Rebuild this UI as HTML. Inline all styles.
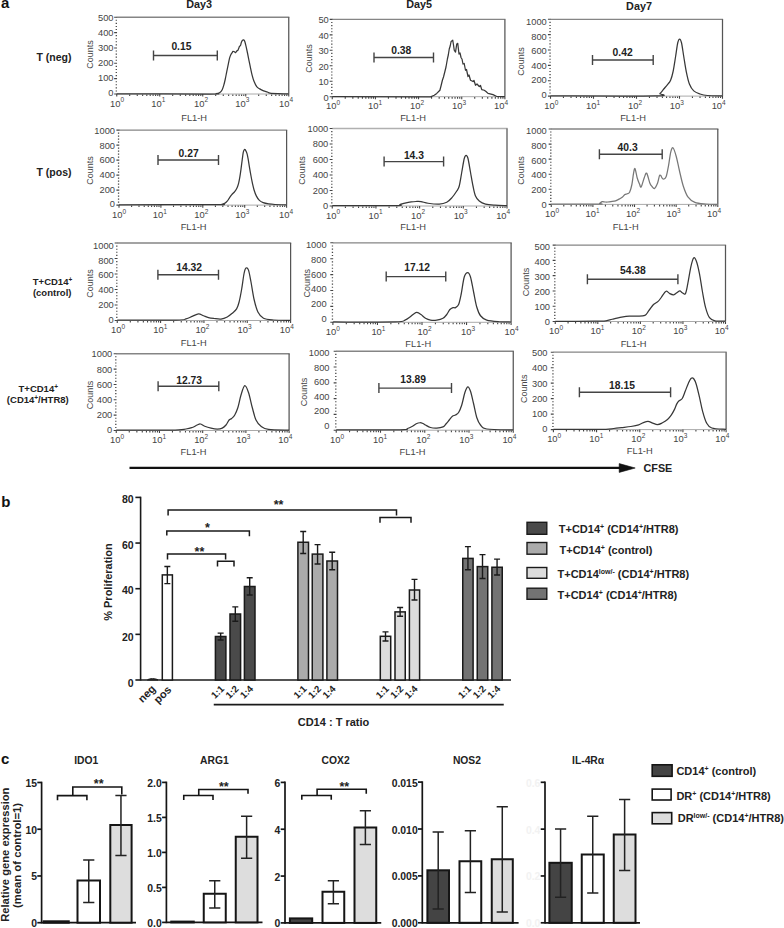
<!DOCTYPE html>
<html><head><meta charset="utf-8"><style>
html,body{margin:0;padding:0;background:#fff;}
body{width:784px;height:928px;overflow:hidden;}
svg{display:block;font-family:"Liberation Sans", sans-serif;}
</style></head><body>
<svg width="784" height="928" viewBox="0 0 784 928">
<rect width="784" height="928" fill="#fff"/>
<line x1="116.75" y1="17.25" x2="289.35" y2="17.25" stroke="#858585" stroke-width="1.3"/>
<line x1="288.75" y1="17.25" x2="288.75" y2="94" stroke="#555" stroke-width="1.25"/>
<line x1="116.75" y1="94" x2="288.75" y2="94" stroke="#aaa" stroke-width="1.0"/>
<text x="113.5" y="96.45" font-size="9.3" text-anchor="end" fill="#444">0</text>
<text x="113.5" y="81.39" font-size="9.3" text-anchor="end" fill="#444">100</text>
<text x="113.5" y="66.33" font-size="9.3" text-anchor="end" fill="#444">200</text>
<text x="113.5" y="51.27" font-size="9.3" text-anchor="end" fill="#444">300</text>
<text x="113.5" y="36.21" font-size="9.3" text-anchor="end" fill="#444">400</text>
<text x="113.5" y="21.15" font-size="9.3" text-anchor="end" fill="#444">500</text>
<text x="117" y="106.6" font-size="9.4" text-anchor="middle" fill="#444">10<tspan font-size="6.5" dy="-4.2">0</tspan></text>
<text x="158.3" y="106.6" font-size="9.4" text-anchor="middle" fill="#444">10<tspan font-size="6.5" dy="-4.2">1</tspan></text>
<text x="201" y="106.6" font-size="9.4" text-anchor="middle" fill="#444">10<tspan font-size="6.5" dy="-4.2">2</tspan></text>
<text x="242.3" y="106.6" font-size="9.4" text-anchor="middle" fill="#444">10<tspan font-size="6.5" dy="-4.2">3</tspan></text>
<text x="286.15" y="106.6" font-size="9.4" text-anchor="middle" fill="#444">10<tspan font-size="6.5" dy="-4.2">4</tspan></text>
<path d="M114.15,94H117.05M115.65,90.93h1.3M115.65,87.86h1.3M115.65,84.79h1.3M115.65,81.72h1.3M114.15,78.65H117.05M115.65,75.58h1.3M115.65,72.51h1.3M115.65,69.44h1.3M115.65,66.37h1.3M114.15,63.3H117.05M115.65,60.23h1.3M115.65,57.16h1.3M115.65,54.09h1.3M115.65,51.02h1.3M114.15,47.95H117.05M115.65,44.88h1.3M115.65,41.81h1.3M115.65,38.74h1.3M115.65,35.67h1.3M114.15,32.6H117.05M115.65,29.53h1.3M115.65,26.46h1.3M115.65,23.39h1.3M115.65,20.32h1.3M114.15,17.25H117.05M116.75,94v2.6M129.69,94.4v1.6M137.27,94.4v1.6M142.64,94.4v1.6M146.81,94.4v1.6M150.21,94.4v1.6M153.09,94.4v1.6M155.58,94.4v1.6M157.78,94.4v1.6M159.75,94v2.6M172.69,94.4v1.6M180.27,94.4v1.6M185.64,94.4v1.6M189.81,94.4v1.6M193.21,94.4v1.6M196.09,94.4v1.6M198.58,94.4v1.6M200.78,94.4v1.6M202.75,94v2.6M215.69,94.4v1.6M223.27,94.4v1.6M228.64,94.4v1.6M232.81,94.4v1.6M236.21,94.4v1.6M239.09,94.4v1.6M241.58,94.4v1.6M243.78,94.4v1.6M245.75,94v2.6M258.69,94.4v1.6M266.27,94.4v1.6M271.64,94.4v1.6M275.81,94.4v1.6M279.21,94.4v1.6M282.09,94.4v1.6M284.58,94.4v1.6M286.78,94.4v1.6M288.75,94v2.6" stroke="#444" stroke-width="1.1" fill="none"/>
<text x="194.15" y="120.5" font-size="9.3" text-anchor="middle" fill="#444">FL1-H</text>
<text x="92.8" y="54.5" font-size="9" text-anchor="middle" fill="#444" transform="rotate(-90 92.8 54.5)">Counts</text>
<path d="M153.5,55.5H217.3M153.5,50.5v10M217.3,50.5v10" stroke="#444" stroke-width="1.4" fill="none"/>
<text x="181.4" y="50" font-size="10.3" font-weight="bold" text-anchor="middle" fill="#222">0.15</text>
<path d="M116.75,93.8C132.29,93.83 193.44,94.02 210,94C226.56,93.98 214.45,93.97 216.1,93.7C217.75,93.43 218.88,93.07 219.9,92.4C220.92,91.73 221.55,90.92 222.2,89.7C222.85,88.48 223.28,86.88 223.8,85.1C224.32,83.32 224.8,81.3 225.3,79C225.8,76.7 226.28,73.85 226.8,71.3C227.32,68.75 227.95,65.87 228.4,63.7C228.85,61.53 229.12,59.77 229.5,58.3C229.88,56.83 230.25,55.85 230.7,54.9C231.15,53.95 231.82,53.18 232.2,52.6C232.58,52.02 232.62,51.53 233,51.4C233.38,51.27 234.07,51.6 234.5,51.8C234.93,52 235.22,52.73 235.6,52.6C235.98,52.47 236.42,51.38 236.8,51C237.18,50.62 237.58,50.73 237.9,50.3C238.22,49.87 238.43,49.05 238.7,48.4C238.97,47.75 239.18,46.92 239.5,46.4C239.82,45.88 240.28,46 240.6,45.3C240.92,44.6 241.08,43.03 241.4,42.2C241.72,41.37 242.12,40.68 242.5,40.3C242.88,39.92 243.32,39.7 243.7,39.9C244.08,40.1 244.42,40.47 244.8,41.5C245.18,42.53 245.55,44.18 246,46.1C246.45,48.02 247,50.58 247.5,53C248,55.42 248.48,58.05 249,60.6C249.52,63.15 250.08,65.88 250.6,68.3C251.12,70.72 251.53,72.93 252.1,75.1C252.67,77.27 253.23,79.38 254,81.3C254.77,83.22 255.75,85.33 256.7,86.6C257.65,87.87 258.55,88.2 259.7,88.9C260.85,89.6 262.32,90.28 263.6,90.8C264.88,91.32 266.33,91.62 267.4,92C268.47,92.38 268.23,92.83 270,93.1C271.77,93.37 274.88,93.48 278,93.6C281.12,93.72 286.96,93.77 288.75,93.8" stroke="#383838" stroke-width="1.25" fill="none" stroke-linejoin="round"/>
<line x1="332.25" y1="19.4" x2="505.5" y2="19.4" stroke="#858585" stroke-width="1.3"/>
<line x1="504.9" y1="19.4" x2="504.9" y2="96.7" stroke="#555" stroke-width="1.25"/>
<line x1="332.25" y1="96.7" x2="504.9" y2="96.7" stroke="#aaa" stroke-width="1.0"/>
<text x="328.75" y="100.65" font-size="9.3" text-anchor="end" fill="#444">0</text>
<text x="328.75" y="85.2" font-size="9.3" text-anchor="end" fill="#444">10</text>
<text x="328.75" y="69.75" font-size="9.3" text-anchor="end" fill="#444">20</text>
<text x="328.75" y="54.3" font-size="9.3" text-anchor="end" fill="#444">30</text>
<text x="328.75" y="38.85" font-size="9.3" text-anchor="end" fill="#444">40</text>
<text x="328.75" y="23.4" font-size="9.3" text-anchor="end" fill="#444">50</text>
<text x="333.05" y="109.3" font-size="9.4" text-anchor="middle" fill="#444">10<tspan font-size="6.5" dy="-4.2">0</tspan></text>
<text x="375.06" y="109.3" font-size="9.4" text-anchor="middle" fill="#444">10<tspan font-size="6.5" dy="-4.2">1</tspan></text>
<text x="417.07" y="109.3" font-size="9.4" text-anchor="middle" fill="#444">10<tspan font-size="6.5" dy="-4.2">2</tspan></text>
<text x="459.09" y="109.3" font-size="9.4" text-anchor="middle" fill="#444">10<tspan font-size="6.5" dy="-4.2">3</tspan></text>
<text x="501.1" y="109.3" font-size="9.4" text-anchor="middle" fill="#444">10<tspan font-size="6.5" dy="-4.2">4</tspan></text>
<path d="M329.65,96.7H332.55M331.15,93.61h1.3M331.15,90.52h1.3M331.15,87.42h1.3M331.15,84.33h1.3M329.65,81.24H332.55M331.15,78.15h1.3M331.15,75.06h1.3M331.15,71.96h1.3M331.15,68.87h1.3M329.65,65.78H332.55M331.15,62.69h1.3M331.15,59.6h1.3M331.15,56.5h1.3M331.15,53.41h1.3M329.65,50.32H332.55M331.15,47.23h1.3M331.15,44.14h1.3M331.15,41.04h1.3M331.15,37.95h1.3M329.65,34.86H332.55M331.15,31.77h1.3M331.15,28.68h1.3M331.15,25.58h1.3M331.15,22.49h1.3M329.65,19.4H332.55M332.25,96.7v2.6M345.24,97.1v1.6M352.84,97.1v1.6M358.24,97.1v1.6M362.42,97.1v1.6M365.84,97.1v1.6M368.73,97.1v1.6M371.23,97.1v1.6M373.44,97.1v1.6M375.41,96.7v2.6M388.41,97.1v1.6M396.01,97.1v1.6M401.4,97.1v1.6M405.58,97.1v1.6M409,97.1v1.6M411.89,97.1v1.6M414.39,97.1v1.6M416.6,97.1v1.6M418.57,96.7v2.6M431.57,97.1v1.6M439.17,97.1v1.6M444.56,97.1v1.6M448.74,97.1v1.6M452.16,97.1v1.6M455.05,97.1v1.6M457.55,97.1v1.6M459.76,97.1v1.6M461.74,96.7v2.6M474.73,97.1v1.6M482.33,97.1v1.6M487.72,97.1v1.6M491.91,97.1v1.6M495.32,97.1v1.6M498.21,97.1v1.6M500.72,97.1v1.6M502.92,97.1v1.6M504.9,96.7v2.6" stroke="#444" stroke-width="1.1" fill="none"/>
<text x="413.05" y="121.2" font-size="9.3" text-anchor="middle" fill="#444">FL1-H</text>
<text x="311.8" y="58.4" font-size="9" text-anchor="middle" fill="#444" transform="rotate(-90 311.8 58.4)">Counts</text>
<path d="M374,57.5H433.5M374,52.5v10M433.5,52.5v10" stroke="#444" stroke-width="1.4" fill="none"/>
<text x="401.3" y="53.6" font-size="10.3" font-weight="bold" text-anchor="middle" fill="#222">0.38</text>
<path d="M332.25,96.5L430.5,96.8L434.25,95.25L436.75,93.4L439.9,90.25L441,86L442.4,80.25L443.5,77L444.9,71.5L446,67L447.4,59L448.3,55L449.25,49L450.2,46L451.1,41.5L452.75,40.25L453.5,45L454.25,50.25L455.5,52.1L456.75,44L457.75,43.4L458.4,49L459,54L460,53L461.1,57.75L462,59L463,64L464.2,63.5L465.5,70.25L466.5,69.5L468,76.5L469,75L470.5,80.25L473,81.5L474,80.5L475.5,85.25L477,84L479.25,86.5L480.5,85.5L481.75,89.6L484.25,90.25L486,91.5L488,93.4L493,94.6L496.75,96.5L504.9,96.7" stroke="#383838" stroke-width="1.25" fill="none" stroke-linejoin="round"/>
<line x1="550.5" y1="19.3" x2="723.1" y2="19.3" stroke="#858585" stroke-width="1.3"/>
<line x1="722.5" y1="19.3" x2="722.5" y2="96.1" stroke="#555" stroke-width="1.25"/>
<line x1="550.5" y1="96.1" x2="722.5" y2="96.1" stroke="#aaa" stroke-width="1.0"/>
<text x="546.75" y="97.95" font-size="9.3" text-anchor="end" fill="#444">0</text>
<text x="546.75" y="83.43" font-size="9.3" text-anchor="end" fill="#444">200</text>
<text x="546.75" y="68.91" font-size="9.3" text-anchor="end" fill="#444">400</text>
<text x="546.75" y="54.39" font-size="9.3" text-anchor="end" fill="#444">600</text>
<text x="546.75" y="39.87" font-size="9.3" text-anchor="end" fill="#444">800</text>
<text x="546.75" y="25.35" font-size="9.3" text-anchor="end" fill="#444">1000</text>
<text x="551.3" y="108.7" font-size="9.4" text-anchor="middle" fill="#444">10<tspan font-size="6.5" dy="-4.2">0</tspan></text>
<text x="593.15" y="108.7" font-size="9.4" text-anchor="middle" fill="#444">10<tspan font-size="6.5" dy="-4.2">1</tspan></text>
<text x="635" y="108.7" font-size="9.4" text-anchor="middle" fill="#444">10<tspan font-size="6.5" dy="-4.2">2</tspan></text>
<text x="676.85" y="108.7" font-size="9.4" text-anchor="middle" fill="#444">10<tspan font-size="6.5" dy="-4.2">3</tspan></text>
<text x="718.7" y="108.7" font-size="9.4" text-anchor="middle" fill="#444">10<tspan font-size="6.5" dy="-4.2">4</tspan></text>
<path d="M547.9,96.1H550.8M549.4,93.03h1.3M549.4,89.96h1.3M549.4,86.88h1.3M549.4,83.81h1.3M547.9,80.74H550.8M549.4,77.67h1.3M549.4,74.6h1.3M549.4,71.52h1.3M549.4,68.45h1.3M547.9,65.38H550.8M549.4,62.31h1.3M549.4,59.24h1.3M549.4,56.16h1.3M549.4,53.09h1.3M547.9,50.02H550.8M549.4,46.95h1.3M549.4,43.88h1.3M549.4,40.8h1.3M549.4,37.73h1.3M547.9,34.66H550.8M549.4,31.59h1.3M549.4,28.52h1.3M549.4,25.44h1.3M549.4,22.37h1.3M547.9,19.3H550.8M550.5,96.1v2.6M563.44,96.5v1.6M571.02,96.5v1.6M576.39,96.5v1.6M580.56,96.5v1.6M583.96,96.5v1.6M586.84,96.5v1.6M589.33,96.5v1.6M591.53,96.5v1.6M593.5,96.1v2.6M606.44,96.5v1.6M614.02,96.5v1.6M619.39,96.5v1.6M623.56,96.5v1.6M626.96,96.5v1.6M629.84,96.5v1.6M632.33,96.5v1.6M634.53,96.5v1.6M636.5,96.1v2.6M649.44,96.5v1.6M657.02,96.5v1.6M662.39,96.5v1.6M666.56,96.5v1.6M669.96,96.5v1.6M672.84,96.5v1.6M675.33,96.5v1.6M677.53,96.5v1.6M679.5,96.1v2.6M692.44,96.5v1.6M700.02,96.5v1.6M705.39,96.5v1.6M709.56,96.5v1.6M712.96,96.5v1.6M715.84,96.5v1.6M718.33,96.5v1.6M720.53,96.5v1.6M722.5,96.1v2.6" stroke="#444" stroke-width="1.1" fill="none"/>
<text x="633.06" y="120.6" font-size="9.3" text-anchor="middle" fill="#444">FL1-H</text>
<text x="524.3" y="61.5" font-size="9" text-anchor="middle" fill="#444" transform="rotate(-90 524.3 61.5)">Counts</text>
<path d="M592.5,60H653.2M592.5,55v10M653.2,55v10" stroke="#444" stroke-width="1.4" fill="none"/>
<text x="622.6" y="56.25" font-size="10.3" font-weight="bold" text-anchor="middle" fill="#222">0.42</text>
<path d="M550.5,95.9C567.92,95.9 636.75,96.32 655,95.9C673.25,95.48 658.54,94.55 660,93.4C661.46,92.25 662.5,90.47 663.75,89C665,87.53 666.36,86.06 667.5,84.6C668.64,83.14 669.67,82.43 670.6,80.25C671.53,78.07 672.27,75.46 673.1,71.5C673.93,67.54 674.83,61.29 675.6,56.5C676.38,51.71 677.08,45.67 677.75,42.75C678.42,39.83 678.98,39 679.6,39C680.23,39 680.81,39.83 681.5,42.75C682.19,45.67 682.96,51.71 683.75,56.5C684.54,61.29 685.31,66.92 686.25,71.5C687.19,76.08 688.15,80.77 689.4,84C690.65,87.23 691.98,89.23 693.75,90.9C695.52,92.57 697.71,93.23 700,94C702.29,94.77 703.75,95.18 707.5,95.5C711.25,95.82 720,95.83 722.5,95.9" stroke="#383838" stroke-width="1.25" fill="none" stroke-linejoin="round"/>
<line x1="119" y1="130.1" x2="287.2" y2="130.1" stroke="#858585" stroke-width="1.3"/>
<line x1="286.6" y1="130.1" x2="286.6" y2="205.1" stroke="#555" stroke-width="1.25"/>
<line x1="119" y1="205.1" x2="286.6" y2="205.1" stroke="#aaa" stroke-width="1.0"/>
<text x="115" y="207.45" font-size="9.3" text-anchor="end" fill="#444">0</text>
<text x="115" y="192.78" font-size="9.3" text-anchor="end" fill="#444">200</text>
<text x="115" y="178.11" font-size="9.3" text-anchor="end" fill="#444">400</text>
<text x="115" y="163.44" font-size="9.3" text-anchor="end" fill="#444">600</text>
<text x="115" y="148.77" font-size="9.3" text-anchor="end" fill="#444">800</text>
<text x="115" y="134.1" font-size="9.3" text-anchor="end" fill="#444">1000</text>
<text x="119" y="217.7" font-size="9.4" text-anchor="middle" fill="#444">10<tspan font-size="6.5" dy="-4.2">0</tspan></text>
<text x="159.9" y="217.7" font-size="9.4" text-anchor="middle" fill="#444">10<tspan font-size="6.5" dy="-4.2">1</tspan></text>
<text x="201.3" y="217.7" font-size="9.4" text-anchor="middle" fill="#444">10<tspan font-size="6.5" dy="-4.2">2</tspan></text>
<text x="242.25" y="217.7" font-size="9.4" text-anchor="middle" fill="#444">10<tspan font-size="6.5" dy="-4.2">3</tspan></text>
<text x="286.1" y="217.7" font-size="9.4" text-anchor="middle" fill="#444">10<tspan font-size="6.5" dy="-4.2">4</tspan></text>
<path d="M116.4,205.1H119.3M117.9,202.1h1.3M117.9,199.1h1.3M117.9,196.1h1.3M117.9,193.1h1.3M116.4,190.1H119.3M117.9,187.1h1.3M117.9,184.1h1.3M117.9,181.1h1.3M117.9,178.1h1.3M116.4,175.1H119.3M117.9,172.1h1.3M117.9,169.1h1.3M117.9,166.1h1.3M117.9,163.1h1.3M116.4,160.1H119.3M117.9,157.1h1.3M117.9,154.1h1.3M117.9,151.1h1.3M117.9,148.1h1.3M116.4,145.1H119.3M117.9,142.1h1.3M117.9,139.1h1.3M117.9,136.1h1.3M117.9,133.1h1.3M116.4,130.1H119.3M119,205.1v2.6M131.61,205.5v1.6M138.99,205.5v1.6M144.23,205.5v1.6M148.29,205.5v1.6M151.6,205.5v1.6M154.41,205.5v1.6M156.84,205.5v1.6M158.98,205.5v1.6M160.9,205.1v2.6M173.51,205.5v1.6M180.89,205.5v1.6M186.13,205.5v1.6M190.19,205.5v1.6M193.5,205.5v1.6M196.31,205.5v1.6M198.74,205.5v1.6M200.88,205.5v1.6M202.8,205.1v2.6M215.41,205.5v1.6M222.79,205.5v1.6M228.03,205.5v1.6M232.09,205.5v1.6M235.4,205.5v1.6M238.21,205.5v1.6M240.64,205.5v1.6M242.78,205.5v1.6M244.7,205.1v2.6M257.31,205.5v1.6M264.69,205.5v1.6M269.93,205.5v1.6M273.99,205.5v1.6M277.3,205.5v1.6M280.11,205.5v1.6M282.54,205.5v1.6M284.68,205.5v1.6M286.6,205.1v2.6" stroke="#444" stroke-width="1.1" fill="none"/>
<text x="193.58" y="230.4" font-size="9.3" text-anchor="middle" fill="#444">FL1-H</text>
<text x="92.7" y="170.4" font-size="9" text-anchor="middle" fill="#444" transform="rotate(-90 92.7 170.4)">Counts</text>
<path d="M158,160H218.5M158,155v10M218.5,155v10" stroke="#444" stroke-width="1.4" fill="none"/>
<text x="188.6" y="156.9" font-size="10.3" font-weight="bold" text-anchor="middle" fill="#222">0.27</text>
<path d="M119,204.8C135,204.78 197.85,204.73 215,204.65C232.15,204.57 220.23,204.56 221.9,204.3C223.57,204.04 224.12,203.62 225,203.1C225.88,202.58 226.45,202.08 227.2,201.2C227.95,200.32 228.73,198.88 229.5,197.8C230.27,196.72 230.9,195.78 231.8,194.7C232.7,193.62 234,192.52 234.9,191.3C235.8,190.08 236.57,188.82 237.2,187.4C237.83,185.98 238.25,184.58 238.7,182.8C239.15,181.02 239.52,178.98 239.9,176.7C240.28,174.42 240.62,171.9 241,169.1C241.38,166.3 241.82,162.72 242.2,159.9C242.58,157.08 242.92,153.92 243.3,152.2C243.68,150.48 244.12,149.92 244.5,149.6C244.88,149.28 245.17,149.6 245.6,150.3C246.03,151 246.65,152.2 247.1,153.8C247.55,155.4 247.92,157.73 248.3,159.9C248.68,162.07 248.95,164.12 249.4,166.8C249.85,169.48 250.48,173.2 251,176C251.52,178.8 252,181.32 252.5,183.6C253,185.88 253.37,187.65 254,189.7C254.63,191.75 255.4,194.12 256.3,195.9C257.2,197.68 258.25,199.27 259.4,200.4C260.55,201.53 261.67,202.12 263.2,202.7C264.73,203.28 266.63,203.6 268.6,203.9C270.57,204.2 272,204.35 275,204.5C278,204.65 284.67,204.75 286.6,204.8" stroke="#383838" stroke-width="1.25" fill="none" stroke-linejoin="round"/>
<line x1="332.25" y1="128.5" x2="507.6" y2="128.5" stroke="#b0b0b0" stroke-width="1.3"/>
<line x1="507" y1="128.5" x2="507" y2="206" stroke="#555" stroke-width="1.25"/>
<line x1="332.25" y1="206" x2="507" y2="206" stroke="#aaa" stroke-width="1.0"/>
<text x="328.25" y="209.35" font-size="9.3" text-anchor="end" fill="#444">0</text>
<text x="328.25" y="193.85" font-size="9.3" text-anchor="end" fill="#444">200</text>
<text x="328.25" y="178.35" font-size="9.3" text-anchor="end" fill="#444">400</text>
<text x="328.25" y="162.85" font-size="9.3" text-anchor="end" fill="#444">600</text>
<text x="328.25" y="147.35" font-size="9.3" text-anchor="end" fill="#444">800</text>
<text x="328.25" y="131.85" font-size="9.3" text-anchor="end" fill="#444">1000</text>
<text x="333.05" y="218.6" font-size="9.4" text-anchor="middle" fill="#444">10<tspan font-size="6.5" dy="-4.2">0</tspan></text>
<text x="375.59" y="218.6" font-size="9.4" text-anchor="middle" fill="#444">10<tspan font-size="6.5" dy="-4.2">1</tspan></text>
<text x="418.12" y="218.6" font-size="9.4" text-anchor="middle" fill="#444">10<tspan font-size="6.5" dy="-4.2">2</tspan></text>
<text x="460.66" y="218.6" font-size="9.4" text-anchor="middle" fill="#444">10<tspan font-size="6.5" dy="-4.2">3</tspan></text>
<text x="503.2" y="218.6" font-size="9.4" text-anchor="middle" fill="#444">10<tspan font-size="6.5" dy="-4.2">4</tspan></text>
<path d="M329.65,206H332.55M331.15,202.9h1.3M331.15,199.8h1.3M331.15,196.7h1.3M331.15,193.6h1.3M329.65,190.5H332.55M331.15,187.4h1.3M331.15,184.3h1.3M331.15,181.2h1.3M331.15,178.1h1.3M329.65,175H332.55M331.15,171.9h1.3M331.15,168.8h1.3M331.15,165.7h1.3M331.15,162.6h1.3M329.65,159.5H332.55M331.15,156.4h1.3M331.15,153.3h1.3M331.15,150.2h1.3M331.15,147.1h1.3M329.65,144H332.55M331.15,140.9h1.3M331.15,137.8h1.3M331.15,134.7h1.3M331.15,131.6h1.3M329.65,128.5H332.55M332.25,206v2.6M345.4,206.4v1.6M353.09,206.4v1.6M358.55,206.4v1.6M362.79,206.4v1.6M366.25,206.4v1.6M369.17,206.4v1.6M371.7,206.4v1.6M373.94,206.4v1.6M375.94,206v2.6M389.09,206.4v1.6M396.78,206.4v1.6M402.24,206.4v1.6M406.47,206.4v1.6M409.93,206.4v1.6M412.86,206.4v1.6M415.39,206.4v1.6M417.63,206.4v1.6M419.62,206v2.6M432.78,206.4v1.6M440.47,206.4v1.6M445.93,206.4v1.6M450.16,206.4v1.6M453.62,206.4v1.6M456.55,206.4v1.6M459.08,206.4v1.6M461.31,206.4v1.6M463.31,206v2.6M476.46,206.4v1.6M484.16,206.4v1.6M489.61,206.4v1.6M493.85,206.4v1.6M497.31,206.4v1.6M500.23,206.4v1.6M502.77,206.4v1.6M505,206.4v1.6M507,206v2.6" stroke="#444" stroke-width="1.1" fill="none"/>
<text x="413.16" y="230" font-size="9.3" text-anchor="middle" fill="#444">FL1-H</text>
<text x="305.3" y="170.4" font-size="9" text-anchor="middle" fill="#444" transform="rotate(-90 305.3 170.4)">Counts</text>
<path d="M384.1,161.6H443.6M384.1,156.6v10M443.6,156.6v10" stroke="#444" stroke-width="1.4" fill="none"/>
<text x="413.9" y="158.9" font-size="10.3" font-weight="bold" text-anchor="middle" fill="#222">14.3</text>
<path d="M332.25,205.7C342.71,205.68 383.71,205.8 395,205.6C406.29,205.4 398.33,204.92 400,204.5C401.67,204.08 403.12,203.53 405,203.1C406.88,202.67 409.42,202.17 411.25,201.9C413.08,201.63 414.38,201.55 416,201.5C417.62,201.45 419,201.31 421,201.6C423,201.89 424.96,202.83 428,203.25C431.04,203.67 436.12,204.27 439.25,204.1C442.38,203.93 444.67,203.28 446.75,202.25C448.83,201.22 450.08,199.78 451.75,197.9C453.42,196.03 455.5,192.98 456.75,191C458,189.02 458.42,189.12 459.25,186C460.08,182.88 460.92,176.83 461.75,172.25C462.58,167.67 463.52,161.31 464.25,158.5C464.98,155.69 465.48,155.4 466.1,155.4C466.73,155.4 467.27,155.69 468,158.5C468.73,161.31 469.67,167.67 470.5,172.25C471.33,176.83 472.17,182.04 473,186C473.83,189.96 474.46,193.5 475.5,196C476.54,198.5 477.58,199.65 479.25,201C480.92,202.35 482.88,203.4 485.5,204.1C488.12,204.8 491.42,204.95 495,205.2C498.58,205.45 505,205.53 507,205.6" stroke="#383838" stroke-width="1.25" fill="none" stroke-linejoin="round"/>
<line x1="551.25" y1="129" x2="718.4" y2="129" stroke="#858585" stroke-width="1.3"/>
<line x1="717.8" y1="129" x2="717.8" y2="204.4" stroke="#555" stroke-width="1.25"/>
<line x1="551.25" y1="204.4" x2="717.8" y2="204.4" stroke="#aaa" stroke-width="1.0"/>
<text x="546.75" y="207.75" font-size="9.3" text-anchor="end" fill="#444">0</text>
<text x="546.75" y="193.09" font-size="9.3" text-anchor="end" fill="#444">200</text>
<text x="546.75" y="178.43" font-size="9.3" text-anchor="end" fill="#444">400</text>
<text x="546.75" y="163.77" font-size="9.3" text-anchor="end" fill="#444">600</text>
<text x="546.75" y="149.11" font-size="9.3" text-anchor="end" fill="#444">800</text>
<text x="546.75" y="134.45" font-size="9.3" text-anchor="end" fill="#444">1000</text>
<text x="552.05" y="217" font-size="9.4" text-anchor="middle" fill="#444">10<tspan font-size="6.5" dy="-4.2">0</tspan></text>
<text x="592.54" y="217" font-size="9.4" text-anchor="middle" fill="#444">10<tspan font-size="6.5" dy="-4.2">1</tspan></text>
<text x="633.02" y="217" font-size="9.4" text-anchor="middle" fill="#444">10<tspan font-size="6.5" dy="-4.2">2</tspan></text>
<text x="673.51" y="217" font-size="9.4" text-anchor="middle" fill="#444">10<tspan font-size="6.5" dy="-4.2">3</tspan></text>
<text x="714" y="217" font-size="9.4" text-anchor="middle" fill="#444">10<tspan font-size="6.5" dy="-4.2">4</tspan></text>
<path d="M548.65,204.4H551.55M550.15,201.38h1.3M550.15,198.37h1.3M550.15,195.35h1.3M550.15,192.34h1.3M548.65,189.32H551.55M550.15,186.3h1.3M550.15,183.29h1.3M550.15,180.27h1.3M550.15,177.26h1.3M548.65,174.24H551.55M550.15,171.22h1.3M550.15,168.21h1.3M550.15,165.19h1.3M550.15,162.18h1.3M548.65,159.16H551.55M550.15,156.14h1.3M550.15,153.13h1.3M550.15,150.11h1.3M550.15,147.1h1.3M548.65,144.08H551.55M550.15,141.06h1.3M550.15,138.05h1.3M550.15,135.03h1.3M550.15,132.02h1.3M548.65,129H551.55M551.25,204.4v2.6M563.78,204.8v1.6M571.12,204.8v1.6M576.32,204.8v1.6M580.35,204.8v1.6M583.65,204.8v1.6M586.44,204.8v1.6M588.85,204.8v1.6M590.98,204.8v1.6M592.89,204.4v2.6M605.42,204.8v1.6M612.75,204.8v1.6M617.96,204.8v1.6M621.99,204.8v1.6M625.29,204.8v1.6M628.08,204.8v1.6M630.49,204.8v1.6M632.62,204.8v1.6M634.52,204.4v2.6M647.06,204.8v1.6M654.39,204.8v1.6M659.59,204.8v1.6M663.63,204.8v1.6M666.93,204.8v1.6M669.71,204.8v1.6M672.13,204.8v1.6M674.26,204.8v1.6M676.16,204.4v2.6M688.7,204.8v1.6M696.03,204.8v1.6M701.23,204.8v1.6M705.27,204.8v1.6M708.56,204.8v1.6M711.35,204.8v1.6M713.76,204.8v1.6M715.89,204.8v1.6M717.8,204.4v2.6" stroke="#444" stroke-width="1.1" fill="none"/>
<text x="625.7" y="230.4" font-size="9.3" text-anchor="middle" fill="#444">FL1-H</text>
<text x="523.8" y="170.4" font-size="9" text-anchor="middle" fill="#444" transform="rotate(-90 523.8 170.4)">Counts</text>
<path d="M599.4,154.3H662.2M599.4,149.3v10M662.2,149.3v10" stroke="#444" stroke-width="1.4" fill="none"/>
<text x="627.6" y="150.5" font-size="10.3" font-weight="bold" text-anchor="middle" fill="#222">40.3</text>
<path d="M551.25,204.2C559.12,204.2 590.46,204.3 598.5,204.2C606.54,204.1 598.9,204.03 599.5,203.6C600.1,203.17 601.14,201.87 602.1,201.6C603.06,201.33 604.3,201.93 605.25,202C606.2,202.07 606.84,202.07 607.8,202C608.76,201.93 609.7,201.8 611,201.6C612.3,201.4 614.07,201.32 615.6,200.8C617.13,200.28 619.05,199.13 620.2,198.5C621.35,197.87 621.72,197.65 622.5,197C623.28,196.35 624.12,195.13 624.9,194.6C625.68,194.07 626.42,194.19 627.2,193.8C627.98,193.41 628.82,193.8 629.6,192.25C630.38,190.7 631.25,187.61 631.9,184.5C632.55,181.39 632.98,176.25 633.5,173.6C634.02,170.95 634.37,167.82 635,168.6C635.63,169.38 636.55,175.68 637.3,178.25C638.05,180.82 638.85,182.57 639.5,184C640.15,185.43 640.39,187.88 641.2,186.8C642.01,185.72 643.43,179.75 644.35,177.5C645.27,175.25 645.79,172.4 646.7,173.3C647.61,174.2 648.92,180.7 649.8,182.9C650.68,185.1 651.22,185.58 652,186.5C652.78,187.42 653.57,189 654.5,188.4C655.43,187.8 656.7,185.12 657.6,182.9C658.5,180.68 659,175.75 659.9,175.1C660.8,174.45 661.97,178.73 663,179C664.03,179.27 665.18,178.9 666.1,176.7C667.02,174.5 667.72,169.95 668.5,165.8C669.28,161.65 670.03,154.78 670.8,151.8C671.57,148.82 672.19,147.12 673.1,147.9C674.01,148.68 675.2,152.73 676.25,156.5C677.3,160.27 678.23,165.58 679.4,170.5C680.57,175.42 681.83,181.6 683.25,186C684.67,190.4 685.96,194.17 687.9,196.9C689.84,199.63 691.92,201.22 694.9,202.4C697.88,203.58 701.98,203.68 705.8,204C709.62,204.32 715.8,204.25 717.8,204.3" stroke="#777" stroke-width="1.25" fill="none" stroke-linejoin="round"/>
<line x1="117.25" y1="243" x2="291.2" y2="243" stroke="#858585" stroke-width="1.3"/>
<line x1="290.6" y1="243" x2="290.6" y2="320.5" stroke="#555" stroke-width="1.25"/>
<line x1="117.25" y1="320.5" x2="290.6" y2="320.5" stroke="#aaa" stroke-width="1.0"/>
<text x="113.75" y="322.6" font-size="9.3" text-anchor="end" fill="#444">0</text>
<text x="113.75" y="307.89" font-size="9.3" text-anchor="end" fill="#444">200</text>
<text x="113.75" y="293.18" font-size="9.3" text-anchor="end" fill="#444">400</text>
<text x="113.75" y="278.47" font-size="9.3" text-anchor="end" fill="#444">600</text>
<text x="113.75" y="263.76" font-size="9.3" text-anchor="end" fill="#444">800</text>
<text x="113.75" y="249.05" font-size="9.3" text-anchor="end" fill="#444">1000</text>
<text x="118.05" y="333.1" font-size="9.4" text-anchor="middle" fill="#444">10<tspan font-size="6.5" dy="-4.2">0</tspan></text>
<text x="160.24" y="333.1" font-size="9.4" text-anchor="middle" fill="#444">10<tspan font-size="6.5" dy="-4.2">1</tspan></text>
<text x="202.43" y="333.1" font-size="9.4" text-anchor="middle" fill="#444">10<tspan font-size="6.5" dy="-4.2">2</tspan></text>
<text x="244.61" y="333.1" font-size="9.4" text-anchor="middle" fill="#444">10<tspan font-size="6.5" dy="-4.2">3</tspan></text>
<text x="286.8" y="333.1" font-size="9.4" text-anchor="middle" fill="#444">10<tspan font-size="6.5" dy="-4.2">4</tspan></text>
<path d="M114.65,320.5H117.55M116.15,317.4h1.3M116.15,314.3h1.3M116.15,311.2h1.3M116.15,308.1h1.3M114.65,305H117.55M116.15,301.9h1.3M116.15,298.8h1.3M116.15,295.7h1.3M116.15,292.6h1.3M114.65,289.5H117.55M116.15,286.4h1.3M116.15,283.3h1.3M116.15,280.2h1.3M116.15,277.1h1.3M114.65,274H117.55M116.15,270.9h1.3M116.15,267.8h1.3M116.15,264.7h1.3M116.15,261.6h1.3M114.65,258.5H117.55M116.15,255.4h1.3M116.15,252.3h1.3M116.15,249.2h1.3M116.15,246.1h1.3M114.65,243H117.55M117.25,320.5v2.6M130.3,320.9v1.6M137.93,320.9v1.6M143.34,320.9v1.6M147.54,320.9v1.6M150.97,320.9v1.6M153.87,320.9v1.6M156.39,320.9v1.6M158.6,320.9v1.6M160.59,320.5v2.6M173.63,320.9v1.6M181.26,320.9v1.6M186.68,320.9v1.6M190.88,320.9v1.6M194.31,320.9v1.6M197.21,320.9v1.6M199.73,320.9v1.6M201.94,320.9v1.6M203.93,320.5v2.6M216.97,320.9v1.6M224.6,320.9v1.6M230.02,320.9v1.6M234.22,320.9v1.6M237.65,320.9v1.6M240.55,320.9v1.6M243.06,320.9v1.6M245.28,320.9v1.6M247.26,320.5v2.6M260.31,320.9v1.6M267.94,320.9v1.6M273.35,320.9v1.6M277.55,320.9v1.6M280.99,320.9v1.6M283.89,320.9v1.6M286.4,320.9v1.6M288.62,320.9v1.6M290.6,320.5v2.6" stroke="#444" stroke-width="1.1" fill="none"/>
<text x="193.7" y="346.4" font-size="9.3" text-anchor="middle" fill="#444">FL1-H</text>
<text x="92.8" y="283.5" font-size="9" text-anchor="middle" fill="#444" transform="rotate(-90 92.8 283.5)">Counts</text>
<path d="M157.9,274.7H218.5M157.9,269.7v10M218.5,269.7v10" stroke="#444" stroke-width="1.4" fill="none"/>
<text x="189.1" y="270.9" font-size="10.3" font-weight="bold" text-anchor="middle" fill="#222">14.32</text>
<path d="M117.25,320.2C127.04,320.18 164.54,320.32 176,320.1C187.46,319.88 183.29,319.52 186,318.9C188.71,318.28 190.17,317.23 192.25,316.4C194.33,315.57 196.62,314.01 198.5,313.9C200.38,313.79 201.83,315.13 203.5,315.75C205.17,316.37 206.75,317.14 208.5,317.6C210.25,318.06 211.92,318.25 214,318.5C216.08,318.75 218.79,319.35 221,319.1C223.21,318.85 225.38,317.98 227.25,317C229.12,316.02 230.69,314.6 232.25,313.25C233.81,311.9 235.46,310.77 236.6,308.9C237.74,307.02 238.27,305.23 239.1,302C239.93,298.77 240.77,294.29 241.6,289.5C242.43,284.71 243.37,276.83 244.1,273.25C244.83,269.67 245.27,268.52 246,268C246.73,267.48 247.67,267.77 248.5,270.1C249.33,272.43 250.07,277.1 251,282C251.93,286.9 252.95,294.5 254.1,299.5C255.25,304.5 256.33,308.88 257.9,312C259.47,315.12 260.9,316.92 263.5,318.25C266.1,319.58 268.98,319.66 273.5,320C278.02,320.34 287.75,320.25 290.6,320.3" stroke="#383838" stroke-width="1.25" fill="none" stroke-linejoin="round"/>
<line x1="332.9" y1="242.8" x2="511.7" y2="242.8" stroke="#858585" stroke-width="1.3"/>
<line x1="511.1" y1="242.8" x2="511.1" y2="322.3" stroke="#555" stroke-width="1.25"/>
<line x1="332.9" y1="322.3" x2="511.1" y2="322.3" stroke="#aaa" stroke-width="1.0"/>
<text x="326.6" y="321.65" font-size="9.3" text-anchor="end" fill="#444">0</text>
<text x="326.6" y="307.01" font-size="9.3" text-anchor="end" fill="#444">200</text>
<text x="326.6" y="292.37" font-size="9.3" text-anchor="end" fill="#444">400</text>
<text x="326.6" y="277.73" font-size="9.3" text-anchor="end" fill="#444">600</text>
<text x="326.6" y="263.09" font-size="9.3" text-anchor="end" fill="#444">800</text>
<text x="326.6" y="248.45" font-size="9.3" text-anchor="end" fill="#444">1000</text>
<text x="332.9" y="334.9" font-size="9.4" text-anchor="middle" fill="#444">10<tspan font-size="6.5" dy="-4.2">0</tspan></text>
<text x="378.45" y="334.9" font-size="9.4" text-anchor="middle" fill="#444">10<tspan font-size="6.5" dy="-4.2">1</tspan></text>
<text x="424.6" y="334.9" font-size="9.4" text-anchor="middle" fill="#444">10<tspan font-size="6.5" dy="-4.2">2</tspan></text>
<text x="468.05" y="334.9" font-size="9.4" text-anchor="middle" fill="#444">10<tspan font-size="6.5" dy="-4.2">3</tspan></text>
<text x="511.6" y="334.9" font-size="9.4" text-anchor="middle" fill="#444">10<tspan font-size="6.5" dy="-4.2">4</tspan></text>
<path d="M330.3,322.3H333.2M331.8,319.12h1.3M331.8,315.94h1.3M331.8,312.76h1.3M331.8,309.58h1.3M330.3,306.4H333.2M331.8,303.22h1.3M331.8,300.04h1.3M331.8,296.86h1.3M331.8,293.68h1.3M330.3,290.5H333.2M331.8,287.32h1.3M331.8,284.14h1.3M331.8,280.96h1.3M331.8,277.78h1.3M330.3,274.6H333.2M331.8,271.42h1.3M331.8,268.24h1.3M331.8,265.06h1.3M331.8,261.88h1.3M330.3,258.7H333.2M331.8,255.52h1.3M331.8,252.34h1.3M331.8,249.16h1.3M331.8,245.98h1.3M330.3,242.8H333.2M332.9,322.3v2.6M346.31,322.7v1.6M354.16,322.7v1.6M359.72,322.7v1.6M364.04,322.7v1.6M367.57,322.7v1.6M370.55,322.7v1.6M373.13,322.7v1.6M375.41,322.7v1.6M377.45,322.3v2.6M390.86,322.7v1.6M398.71,322.7v1.6M404.27,322.7v1.6M408.59,322.7v1.6M412.12,322.7v1.6M415.1,322.7v1.6M417.68,322.7v1.6M419.96,322.7v1.6M422,322.3v2.6M435.41,322.7v1.6M443.26,322.7v1.6M448.82,322.7v1.6M453.14,322.7v1.6M456.67,322.7v1.6M459.65,322.7v1.6M462.23,322.7v1.6M464.51,322.7v1.6M466.55,322.3v2.6M479.96,322.7v1.6M487.81,322.7v1.6M493.37,322.7v1.6M497.69,322.7v1.6M501.22,322.7v1.6M504.2,322.7v1.6M506.78,322.7v1.6M509.06,322.7v1.6M511.1,322.3v2.6" stroke="#444" stroke-width="1.1" fill="none"/>
<text x="418.26" y="346.9" font-size="9.3" text-anchor="middle" fill="#444">FL1-H</text>
<text x="309.9" y="283.25" font-size="9" text-anchor="middle" fill="#444" transform="rotate(-90 309.9 283.25)">Counts</text>
<path d="M386.2,276.6H445.75M386.2,271.6v10M445.75,271.6v10" stroke="#444" stroke-width="1.4" fill="none"/>
<text x="417.1" y="270.9" font-size="10.3" font-weight="bold" text-anchor="middle" fill="#222">17.12</text>
<path d="M332.9,322C343.25,321.98 382.98,322.22 395,321.9C407.02,321.58 402.5,320.92 405,320.1C407.5,319.28 408.54,318.03 410,317C411.46,315.97 412.6,314.67 413.75,313.9C414.9,313.13 415.69,312.3 416.9,312.4C418.11,312.5 419.57,313.52 421,314.5C422.43,315.48 423.92,317.32 425.5,318.25C427.08,319.18 428.62,319.79 430.5,320.1C432.38,320.41 434.67,320.41 436.75,320.1C438.83,319.79 441.33,319.18 443,318.25C444.67,317.32 445.6,315.96 446.75,314.5C447.9,313.04 448.86,310.65 449.9,309.5C450.94,308.35 452.07,307.92 453,307.6C453.93,307.28 454.57,308.12 455.5,307.6C456.43,307.08 457.67,306.68 458.6,304.5C459.53,302.32 460.16,299.08 461.1,294.5C462.04,289.92 463.14,280.65 464.25,277C465.36,273.35 466.71,272.6 467.75,272.6C468.79,272.6 469.52,273.77 470.5,277C471.48,280.23 472.56,287 473.6,292C474.64,297 475.6,303.04 476.75,307C477.9,310.96 478.83,313.57 480.5,315.75C482.17,317.93 483.62,319.1 486.75,320.1C489.88,321.1 495.19,321.43 499.25,321.75C503.31,322.07 509.12,321.96 511.1,322" stroke="#383838" stroke-width="1.25" fill="none" stroke-linejoin="round"/>
<line x1="555.25" y1="245.1" x2="726.1" y2="245.1" stroke="#858585" stroke-width="1.3"/>
<line x1="725.5" y1="245.1" x2="725.5" y2="321.5" stroke="#555" stroke-width="1.25"/>
<line x1="555.25" y1="321.5" x2="725.5" y2="321.5" stroke="#aaa" stroke-width="1.0"/>
<text x="550" y="325.25" font-size="9.3" text-anchor="end" fill="#444">0</text>
<text x="550" y="310.26" font-size="9.3" text-anchor="end" fill="#444">100</text>
<text x="550" y="295.27" font-size="9.3" text-anchor="end" fill="#444">200</text>
<text x="550" y="280.28" font-size="9.3" text-anchor="end" fill="#444">300</text>
<text x="550" y="265.29" font-size="9.3" text-anchor="end" fill="#444">400</text>
<text x="550" y="250.3" font-size="9.3" text-anchor="end" fill="#444">500</text>
<text x="556.05" y="334.1" font-size="9.4" text-anchor="middle" fill="#444">10<tspan font-size="6.5" dy="-4.2">0</tspan></text>
<text x="597.46" y="334.1" font-size="9.4" text-anchor="middle" fill="#444">10<tspan font-size="6.5" dy="-4.2">1</tspan></text>
<text x="638.88" y="334.1" font-size="9.4" text-anchor="middle" fill="#444">10<tspan font-size="6.5" dy="-4.2">2</tspan></text>
<text x="680.29" y="334.1" font-size="9.4" text-anchor="middle" fill="#444">10<tspan font-size="6.5" dy="-4.2">3</tspan></text>
<text x="721.7" y="334.1" font-size="9.4" text-anchor="middle" fill="#444">10<tspan font-size="6.5" dy="-4.2">4</tspan></text>
<path d="M552.65,321.5H555.55M554.15,318.44h1.3M554.15,315.39h1.3M554.15,312.33h1.3M554.15,309.28h1.3M552.65,306.22H555.55M554.15,303.16h1.3M554.15,300.11h1.3M554.15,297.05h1.3M554.15,294h1.3M552.65,290.94H555.55M554.15,287.88h1.3M554.15,284.83h1.3M554.15,281.77h1.3M554.15,278.72h1.3M552.65,275.66H555.55M554.15,272.6h1.3M554.15,269.55h1.3M554.15,266.49h1.3M554.15,263.44h1.3M552.65,260.38H555.55M554.15,257.32h1.3M554.15,254.27h1.3M554.15,251.21h1.3M554.15,248.16h1.3M552.65,245.1H555.55M555.25,321.5v2.6M568.06,321.9v1.6M575.56,321.9v1.6M580.88,321.9v1.6M585,321.9v1.6M588.37,321.9v1.6M591.22,321.9v1.6M593.69,321.9v1.6M595.86,321.9v1.6M597.81,321.5v2.6M610.63,321.9v1.6M618.12,321.9v1.6M623.44,321.9v1.6M627.56,321.9v1.6M630.93,321.9v1.6M633.78,321.9v1.6M636.25,321.9v1.6M638.43,321.9v1.6M640.38,321.5v2.6M653.19,321.9v1.6M660.68,321.9v1.6M666,321.9v1.6M670.12,321.9v1.6M673.5,321.9v1.6M676.34,321.9v1.6M678.81,321.9v1.6M680.99,321.9v1.6M682.94,321.5v2.6M695.75,321.9v1.6M703.24,321.9v1.6M708.56,321.9v1.6M712.69,321.9v1.6M716.06,321.9v1.6M718.91,321.9v1.6M721.38,321.9v1.6M723.55,321.9v1.6M725.5,321.5v2.6" stroke="#444" stroke-width="1.1" fill="none"/>
<text x="633.57" y="347.2" font-size="9.3" text-anchor="middle" fill="#444">FL1-H</text>
<text x="529.3" y="282" font-size="9" text-anchor="middle" fill="#444" transform="rotate(-90 529.3 282)">Counts</text>
<path d="M587.4,279.2H677.9M587.4,274.2v10M677.9,274.2v10" stroke="#444" stroke-width="1.4" fill="none"/>
<text x="632.9" y="273.8" font-size="10.3" font-weight="bold" text-anchor="middle" fill="#222">54.38</text>
<path d="M555.25,321.3C561.88,321.28 586.54,321.28 595,321.2C603.46,321.12 603.13,321.12 606,320.8C608.87,320.48 609.6,319.85 612.2,319.25C614.8,318.65 618.75,317.72 621.6,317.2C624.45,316.68 626.72,316.28 629.3,316.1C631.88,315.92 634.5,316.22 637.1,316.1C639.7,315.98 642.95,316.3 644.9,315.4C646.85,314.5 647.37,312.52 648.8,310.7C650.23,308.88 651.95,306.05 653.5,304.5C655.05,302.95 656.82,302.57 658.1,301.4C659.38,300.23 660.15,298.93 661.2,297.5C662.25,296.07 663.48,293.85 664.4,292.8C665.32,291.75 665.8,291.07 666.7,291.2C667.6,291.33 668.63,293 669.8,293.6C670.97,294.2 672.53,294.93 673.7,294.8C674.87,294.67 675.77,293.47 676.8,292.8C677.83,292.13 678.98,290.8 679.9,290.8C680.82,290.8 681.38,292.33 682.3,292.8C683.22,293.27 684.5,295.03 685.4,293.6C686.3,292.17 686.8,288.62 687.7,284.2C688.6,279.78 689.83,271.45 690.8,267.1C691.77,262.75 692.58,259.13 693.5,258.1C694.42,257.07 695.32,258.37 696.3,260.9C697.28,263.43 698.37,268.12 699.4,273.3C700.43,278.48 701.47,286.28 702.5,292C703.53,297.72 704.43,303.32 705.6,307.6C706.77,311.88 707.95,315.5 709.5,317.7C711.05,319.9 712.23,320.22 714.9,320.8C717.57,321.38 723.73,321.13 725.5,321.2" stroke="#383838" stroke-width="1.25" fill="none" stroke-linejoin="round"/>
<line x1="116.25" y1="353.75" x2="289.7" y2="353.75" stroke="#858585" stroke-width="1.3"/>
<line x1="289.1" y1="353.75" x2="289.1" y2="430.5" stroke="#555" stroke-width="1.25"/>
<line x1="116.25" y1="430.5" x2="289.1" y2="430.5" stroke="#aaa" stroke-width="1.0"/>
<text x="112.25" y="433.45" font-size="9.3" text-anchor="end" fill="#444">0</text>
<text x="112.25" y="418.23" font-size="9.3" text-anchor="end" fill="#444">200</text>
<text x="112.25" y="403.01" font-size="9.3" text-anchor="end" fill="#444">400</text>
<text x="112.25" y="387.79" font-size="9.3" text-anchor="end" fill="#444">600</text>
<text x="112.25" y="372.57" font-size="9.3" text-anchor="end" fill="#444">800</text>
<text x="112.25" y="357.35" font-size="9.3" text-anchor="end" fill="#444">1000</text>
<text x="117.05" y="443.1" font-size="9.4" text-anchor="middle" fill="#444">10<tspan font-size="6.5" dy="-4.2">0</tspan></text>
<text x="159.11" y="443.1" font-size="9.4" text-anchor="middle" fill="#444">10<tspan font-size="6.5" dy="-4.2">1</tspan></text>
<text x="201.18" y="443.1" font-size="9.4" text-anchor="middle" fill="#444">10<tspan font-size="6.5" dy="-4.2">2</tspan></text>
<text x="243.24" y="443.1" font-size="9.4" text-anchor="middle" fill="#444">10<tspan font-size="6.5" dy="-4.2">3</tspan></text>
<text x="285.3" y="443.1" font-size="9.4" text-anchor="middle" fill="#444">10<tspan font-size="6.5" dy="-4.2">4</tspan></text>
<path d="M113.65,430.5H116.55M115.15,427.43h1.3M115.15,424.36h1.3M115.15,421.29h1.3M115.15,418.22h1.3M113.65,415.15H116.55M115.15,412.08h1.3M115.15,409.01h1.3M115.15,405.94h1.3M115.15,402.87h1.3M113.65,399.8H116.55M115.15,396.73h1.3M115.15,393.66h1.3M115.15,390.59h1.3M115.15,387.52h1.3M113.65,384.45H116.55M115.15,381.38h1.3M115.15,378.31h1.3M115.15,375.24h1.3M115.15,372.17h1.3M113.65,369.1H116.55M115.15,366.03h1.3M115.15,362.96h1.3M115.15,359.89h1.3M115.15,356.82h1.3M113.65,353.75H116.55M116.25,430.5v2.6M129.26,430.9v1.6M136.87,430.9v1.6M142.27,430.9v1.6M146.45,430.9v1.6M149.88,430.9v1.6M152.77,430.9v1.6M155.27,430.9v1.6M157.49,430.9v1.6M159.46,430.5v2.6M172.47,430.9v1.6M180.08,430.9v1.6M185.48,430.9v1.6M189.67,430.9v1.6M193.09,430.9v1.6M195.98,430.9v1.6M198.49,430.9v1.6M200.7,430.9v1.6M202.68,430.5v2.6M215.68,430.9v1.6M223.29,430.9v1.6M228.69,430.9v1.6M232.88,430.9v1.6M236.3,430.9v1.6M239.19,430.9v1.6M241.7,430.9v1.6M243.91,430.9v1.6M245.89,430.5v2.6M258.9,430.9v1.6M266.51,430.9v1.6M271.9,430.9v1.6M276.09,430.9v1.6M279.51,430.9v1.6M282.41,430.9v1.6M284.91,430.9v1.6M287.12,430.9v1.6M289.1,430.5v2.6" stroke="#444" stroke-width="1.1" fill="none"/>
<text x="193.51" y="454.5" font-size="9.3" text-anchor="middle" fill="#444">FL1-H</text>
<text x="92.7" y="395" font-size="9" text-anchor="middle" fill="#444" transform="rotate(-90 92.7 395)">Counts</text>
<path d="M158.1,386.2H218.8M158.1,381.2v10M218.8,381.2v10" stroke="#444" stroke-width="1.4" fill="none"/>
<text x="189.1" y="383.6" font-size="10.3" font-weight="bold" text-anchor="middle" fill="#222">12.73</text>
<path d="M116.25,430.2C125.38,430.18 159.38,430.3 171,430.1C182.62,429.9 182.46,429.43 186,429C189.54,428.57 190.38,428.17 192.25,427.5C194.12,426.83 195.89,425.58 197.25,425C198.61,424.42 199.15,423.79 200.4,424C201.65,424.21 202.98,425.57 204.75,426.25C206.52,426.93 208.92,427.64 211,428.1C213.08,428.56 215.38,429 217.25,429C219.12,429 220.79,428.77 222.25,428.1C223.71,427.43 224.86,426.35 226,425C227.14,423.65 228.17,421.08 229.1,420C230.03,418.92 230.66,419.33 231.6,418.5C232.54,417.67 233.7,416.83 234.75,415C235.8,413.17 236.86,410.83 237.9,407.5C238.94,404.17 239.86,398.65 241,395C242.14,391.35 243.5,386.02 244.75,385.6C246,385.18 247.25,388.85 248.5,392.5C249.75,396.15 251,402.92 252.25,407.5C253.5,412.08 254.54,416.88 256,420C257.46,423.12 258.92,424.68 261,426.25C263.08,427.82 263.82,428.76 268.5,429.4C273.18,430.04 285.67,429.98 289.1,430.1" stroke="#383838" stroke-width="1.25" fill="none" stroke-linejoin="round"/>
<line x1="336.25" y1="351.25" x2="513.85" y2="351.25" stroke="#858585" stroke-width="1.3"/>
<line x1="513.25" y1="351.25" x2="513.25" y2="430.2" stroke="#555" stroke-width="1.25"/>
<line x1="336.25" y1="430.2" x2="513.25" y2="430.2" stroke="#aaa" stroke-width="1.0"/>
<text x="329.5" y="428.95" font-size="9.3" text-anchor="end" fill="#444">0</text>
<text x="329.5" y="414.38" font-size="9.3" text-anchor="end" fill="#444">200</text>
<text x="329.5" y="399.81" font-size="9.3" text-anchor="end" fill="#444">400</text>
<text x="329.5" y="385.24" font-size="9.3" text-anchor="end" fill="#444">600</text>
<text x="329.5" y="370.67" font-size="9.3" text-anchor="end" fill="#444">800</text>
<text x="329.5" y="356.1" font-size="9.3" text-anchor="end" fill="#444">1000</text>
<text x="337.05" y="442.8" font-size="9.4" text-anchor="middle" fill="#444">10<tspan font-size="6.5" dy="-4.2">0</tspan></text>
<text x="380.15" y="442.8" font-size="9.4" text-anchor="middle" fill="#444">10<tspan font-size="6.5" dy="-4.2">1</tspan></text>
<text x="423.25" y="442.8" font-size="9.4" text-anchor="middle" fill="#444">10<tspan font-size="6.5" dy="-4.2">2</tspan></text>
<text x="466.35" y="442.8" font-size="9.4" text-anchor="middle" fill="#444">10<tspan font-size="6.5" dy="-4.2">3</tspan></text>
<text x="509.45" y="442.8" font-size="9.4" text-anchor="middle" fill="#444">10<tspan font-size="6.5" dy="-4.2">4</tspan></text>
<path d="M333.65,430.2H336.55M335.15,427.04h1.3M335.15,423.88h1.3M335.15,420.73h1.3M335.15,417.57h1.3M333.65,414.41H336.55M335.15,411.25h1.3M335.15,408.09h1.3M335.15,404.94h1.3M335.15,401.78h1.3M333.65,398.62H336.55M335.15,395.46h1.3M335.15,392.3h1.3M335.15,389.15h1.3M335.15,385.99h1.3M333.65,382.83H336.55M335.15,379.67h1.3M335.15,376.51h1.3M335.15,373.36h1.3M335.15,370.2h1.3M333.65,367.04H336.55M335.15,363.88h1.3M335.15,360.72h1.3M335.15,357.57h1.3M335.15,354.41h1.3M333.65,351.25H336.55M336.25,430.2v2.6M349.57,430.6v1.6M357.36,430.6v1.6M362.89,430.6v1.6M367.18,430.6v1.6M370.68,430.6v1.6M373.65,430.6v1.6M376.21,430.6v1.6M378.48,430.6v1.6M380.5,430.2v2.6M393.82,430.6v1.6M401.61,430.6v1.6M407.14,430.6v1.6M411.43,430.6v1.6M414.93,430.6v1.6M417.9,430.6v1.6M420.46,430.6v1.6M422.73,430.6v1.6M424.75,430.2v2.6M438.07,430.6v1.6M445.86,430.6v1.6M451.39,430.6v1.6M455.68,430.6v1.6M459.18,430.6v1.6M462.15,430.6v1.6M464.71,430.6v1.6M466.98,430.6v1.6M469,430.2v2.6M482.32,430.6v1.6M490.11,430.6v1.6M495.64,430.6v1.6M499.93,430.6v1.6M503.43,430.6v1.6M506.4,430.6v1.6M508.96,430.6v1.6M511.23,430.6v1.6M513.25,430.2v2.6" stroke="#444" stroke-width="1.1" fill="none"/>
<text x="412.54" y="455" font-size="9.3" text-anchor="middle" fill="#444">FL1-H</text>
<text x="306.8" y="391.9" font-size="9" text-anchor="middle" fill="#444" transform="rotate(-90 306.8 391.9)">Counts</text>
<path d="M378.9,388.1H451.5M378.9,383.1v10M451.5,383.1v10" stroke="#444" stroke-width="1.4" fill="none"/>
<text x="413.1" y="383.4" font-size="10.3" font-weight="bold" text-anchor="middle" fill="#222">13.89</text>
<path d="M336.25,429.9C346.88,429.88 388.12,430.03 400,429.8C411.88,429.57 405.42,429.09 407.5,428.5C409.58,427.91 411.04,427.04 412.5,426.25C413.96,425.46 415,424.33 416.25,423.75C417.5,423.17 418.88,422.79 420,422.75C421.12,422.71 422.08,423.12 423,423.5C423.92,423.88 424.25,424.33 425.5,425C426.75,425.67 428.62,426.98 430.5,427.5C432.38,428.02 434.67,428.2 436.75,428.1C438.83,428 441.44,427.62 443,426.9C444.56,426.17 445.06,424.9 446.1,423.75C447.14,422.6 448.2,421.25 449.25,420C450.3,418.75 451.36,417.08 452.4,416.25C453.44,415.42 454.47,415.62 455.5,415C456.53,414.38 457.56,414.17 458.6,412.5C459.64,410.83 460.7,408.33 461.75,405C462.8,401.67 463.9,395.52 464.9,392.5C465.9,389.48 466.82,387.11 467.75,386.9C468.68,386.69 469.52,388.44 470.5,391.25C471.48,394.06 472.56,399.38 473.6,403.75C474.64,408.12 475.6,413.96 476.75,417.5C477.9,421.04 478.83,423.08 480.5,425C482.17,426.92 481.29,428.18 486.75,429C492.21,429.82 508.83,429.75 513.25,429.9" stroke="#383838" stroke-width="1.25" fill="none" stroke-linejoin="round"/>
<line x1="553.4" y1="352.2" x2="726.7" y2="352.2" stroke="#858585" stroke-width="1.3"/>
<line x1="726.1" y1="352.2" x2="726.1" y2="429.6" stroke="#555" stroke-width="1.25"/>
<line x1="553.4" y1="429.6" x2="726.1" y2="429.6" stroke="#aaa" stroke-width="1.0"/>
<text x="547.5" y="432.1" font-size="9.3" text-anchor="end" fill="#444">0</text>
<text x="547.5" y="416.91" font-size="9.3" text-anchor="end" fill="#444">100</text>
<text x="547.5" y="401.72" font-size="9.3" text-anchor="end" fill="#444">200</text>
<text x="547.5" y="386.53" font-size="9.3" text-anchor="end" fill="#444">300</text>
<text x="547.5" y="371.34" font-size="9.3" text-anchor="end" fill="#444">400</text>
<text x="547.5" y="356.15" font-size="9.3" text-anchor="end" fill="#444">500</text>
<text x="554.2" y="442.2" font-size="9.4" text-anchor="middle" fill="#444">10<tspan font-size="6.5" dy="-4.2">0</tspan></text>
<text x="596.23" y="442.2" font-size="9.4" text-anchor="middle" fill="#444">10<tspan font-size="6.5" dy="-4.2">1</tspan></text>
<text x="638.25" y="442.2" font-size="9.4" text-anchor="middle" fill="#444">10<tspan font-size="6.5" dy="-4.2">2</tspan></text>
<text x="680.27" y="442.2" font-size="9.4" text-anchor="middle" fill="#444">10<tspan font-size="6.5" dy="-4.2">3</tspan></text>
<text x="722.3" y="442.2" font-size="9.4" text-anchor="middle" fill="#444">10<tspan font-size="6.5" dy="-4.2">4</tspan></text>
<path d="M550.8,429.6H553.7M552.3,426.5h1.3M552.3,423.41h1.3M552.3,420.31h1.3M552.3,417.22h1.3M550.8,414.12H553.7M552.3,411.02h1.3M552.3,407.93h1.3M552.3,404.83h1.3M552.3,401.74h1.3M550.8,398.64H553.7M552.3,395.54h1.3M552.3,392.45h1.3M552.3,389.35h1.3M552.3,386.26h1.3M550.8,383.16H553.7M552.3,380.06h1.3M552.3,376.97h1.3M552.3,373.87h1.3M552.3,370.78h1.3M550.8,367.68H553.7M552.3,364.58h1.3M552.3,361.49h1.3M552.3,358.39h1.3M552.3,355.3h1.3M550.8,352.2H553.7M553.4,429.6v2.6M566.4,430v1.6M574,430v1.6M579.39,430v1.6M583.58,430v1.6M587,430v1.6M589.89,430v1.6M592.39,430v1.6M594.6,430v1.6M596.58,429.6v2.6M609.57,430v1.6M617.17,430v1.6M622.57,430v1.6M626.75,430v1.6M630.17,430v1.6M633.06,430v1.6M635.57,430v1.6M637.77,430v1.6M639.75,429.6v2.6M652.75,430v1.6M660.35,430v1.6M665.74,430v1.6M669.93,430v1.6M673.35,430v1.6M676.24,430v1.6M678.74,430v1.6M680.95,430v1.6M682.92,429.6v2.6M695.92,430v1.6M703.52,430v1.6M708.92,430v1.6M713.1,430v1.6M716.52,430v1.6M719.41,430v1.6M721.92,430v1.6M724.12,430v1.6M726.1,429.6v2.6" stroke="#444" stroke-width="1.1" fill="none"/>
<text x="639.75" y="454" font-size="9.3" text-anchor="middle" fill="#444">FL1-H</text>
<text x="527.05" y="388.75" font-size="9" text-anchor="middle" fill="#444" transform="rotate(-90 527.05 388.75)">Counts</text>
<path d="M579.4,392.3H670.6M579.4,387.3v10M670.6,387.3v10" stroke="#444" stroke-width="1.4" fill="none"/>
<text x="622" y="389.4" font-size="10.3" font-weight="bold" text-anchor="middle" fill="#222">18.15</text>
<path d="M553.4,429.4C557.83,429.4 573.07,429.4 580,429.4C586.93,429.4 590.67,429.42 595,429.4C599.33,429.38 602.87,429.45 606,429.3C609.13,429.15 611.2,428.78 613.8,428.5C616.4,428.22 618.75,427.93 621.6,427.6C624.45,427.27 628.05,426.95 630.9,426.5C633.75,426.05 636.63,425.55 638.7,424.9C640.77,424.25 641.75,423.2 643.3,422.6C644.85,422 646.43,421.23 648,421.3C649.57,421.38 651.13,422.5 652.7,423.05C654.27,423.6 655.85,424.6 657.4,424.6C658.95,424.6 660.32,423.9 662,423.05C663.68,422.2 665.93,420.88 667.5,419.5C669.07,418.12 670.23,416.48 671.4,414.8C672.57,413.12 673.6,411.22 674.5,409.4C675.4,407.58 676.03,405.33 676.8,403.9C677.57,402.47 678.19,401.7 679.1,400.8C680.01,399.9 681.2,400.18 682.25,398.5C683.3,396.82 684.36,393.3 685.4,390.7C686.44,388.1 687.52,384.98 688.5,382.9C689.48,380.82 690.4,378.85 691.3,378.2C692.2,377.55 693.07,377.95 693.9,379C694.73,380.05 695.38,381.52 696.3,384.5C697.22,387.48 698.37,392.5 699.4,396.9C700.43,401.3 701.33,406.62 702.5,410.9C703.67,415.18 704.85,419.75 706.4,422.6C707.95,425.45 708.52,426.88 711.8,428C715.08,429.12 723.72,429.08 726.1,429.3" stroke="#383838" stroke-width="1.25" fill="none" stroke-linejoin="round"/>
<text x="1" y="8.4" font-size="15" font-weight="bold" fill="#111">a</text>
<text x="199.2" y="8" font-size="10.8" font-weight="bold" text-anchor="middle" fill="#222">Day3</text>
<text x="419.2" y="8" font-size="10.8" font-weight="bold" text-anchor="middle" fill="#222">Day5</text>
<text x="639" y="10.3" font-size="10.8" font-weight="bold" text-anchor="middle" fill="#222">Day7</text>
<text x="54" y="61.1" font-size="10.5" font-weight="bold" text-anchor="middle" fill="#222">T (neg)</text>
<text x="54" y="175.6" font-size="10.5" font-weight="bold" text-anchor="middle" fill="#222">T (pos)</text>
<text x="52.5" y="285.25" font-size="9.5" font-weight="bold" text-anchor="middle" fill="#222">T+CD14<tspan font-size="6.5" dy="-3.5">+</tspan><tspan dy="3.5"></tspan></text>
<text x="52.2" y="296" font-size="9.5" font-weight="bold" text-anchor="middle" fill="#222">(control)</text>
<text x="38.25" y="392.25" font-size="9.5" font-weight="bold" text-anchor="middle" fill="#222">T+CD14<tspan font-size="6.5" dy="-3.5">+</tspan><tspan dy="3.5"></tspan></text>
<text x="37.8" y="403.25" font-size="9.5" font-weight="bold" text-anchor="middle" fill="#222">(CD14<tspan font-size="6.5" dy="-3.5">+</tspan><tspan dy="3.5">/HTR8)</tspan></text>
<line x1="129.5" y1="467.9" x2="622" y2="467.9" stroke="#111" stroke-width="2.2"/>
<path d="M619.2,463.6 L635.2,468 L619.2,472.4 Z" stroke="#111" stroke-width="0.6" fill="#111"/>
<text x="643.5" y="472.4" font-size="10.8" font-weight="bold" fill="#222">CFSE</text>
<text x="1.2" y="507.4" font-size="15" font-weight="bold" fill="#111">b</text>
<line x1="140.6" y1="496.7" x2="140.6" y2="680.7" stroke="#1a1a1a" stroke-width="1.6"/>
<line x1="140.6" y1="680" x2="511" y2="680" stroke="#1a1a1a" stroke-width="1.6"/>
<line x1="135.4" y1="680" x2="140.6" y2="680" stroke="#1a1a1a" stroke-width="1.6"/>
<text x="133.6" y="687.15" font-size="10.5" font-weight="bold" text-anchor="end" fill="#222">0</text>
<line x1="135.4" y1="634.35" x2="140.6" y2="634.35" stroke="#1a1a1a" stroke-width="1.6"/>
<text x="133.6" y="640.8" font-size="10.5" font-weight="bold" text-anchor="end" fill="#222">20</text>
<line x1="135.4" y1="588.7" x2="140.6" y2="588.7" stroke="#1a1a1a" stroke-width="1.6"/>
<text x="133.6" y="594.35" font-size="10.5" font-weight="bold" text-anchor="end" fill="#222">40</text>
<line x1="135.4" y1="543.05" x2="140.6" y2="543.05" stroke="#1a1a1a" stroke-width="1.6"/>
<text x="133.6" y="548.9" font-size="10.5" font-weight="bold" text-anchor="end" fill="#222">60</text>
<line x1="135.4" y1="497.4" x2="140.6" y2="497.4" stroke="#1a1a1a" stroke-width="1.6"/>
<text x="133.6" y="503.05" font-size="10.5" font-weight="bold" text-anchor="end" fill="#222">80</text>
<text x="112.3" y="582" font-size="11" font-weight="bold" text-anchor="middle" fill="#222" transform="rotate(-90 112.3 582)">% Proliferation</text>
<path d="M147.5,680 C149,678.2 156,678.2 158,680 Z" stroke="#1a1a1a" stroke-width="1.0" fill="#333"/>
<rect x="162.3" y="574.9" width="10.1" height="105.1" fill="#fff" stroke="#1a1a1a" stroke-width="1.5"/>
<path d="M167.35,566.5V583.6M164.35,566.5h6M164.35,583.6h6" stroke="#1a1a1a" stroke-width="1.4" fill="none"/>
<rect x="215.4" y="636.5" width="10.5" height="43.5" fill="#4a4a4a" stroke="#1a1a1a" stroke-width="1.5"/>
<path d="M220.65,633.1V640M217.65,633.1h6M217.65,640h6" stroke="#1a1a1a" stroke-width="1.4" fill="none"/>
<rect x="230" y="614" width="10.6" height="66" fill="#4a4a4a" stroke="#1a1a1a" stroke-width="1.5"/>
<path d="M235.3,606.9V621.25M232.3,606.9h6M232.3,621.25h6" stroke="#1a1a1a" stroke-width="1.4" fill="none"/>
<rect x="244.4" y="586.5" width="10.6" height="93.5" fill="#4a4a4a" stroke="#1a1a1a" stroke-width="1.5"/>
<path d="M249.7,577.75V595M246.7,577.75h6M246.7,595h6" stroke="#1a1a1a" stroke-width="1.4" fill="none"/>
<rect x="297.9" y="542.25" width="10.6" height="137.75" fill="#ababab" stroke="#1a1a1a" stroke-width="1.5"/>
<path d="M303.2,531.5V553.5M300.2,531.5h6M300.2,553.5h6" stroke="#1a1a1a" stroke-width="1.4" fill="none"/>
<rect x="312.25" y="554.1" width="10.65" height="125.9" fill="#ababab" stroke="#1a1a1a" stroke-width="1.5"/>
<path d="M317.57,544.6V564M314.57,544.6h6M314.57,564h6" stroke="#1a1a1a" stroke-width="1.4" fill="none"/>
<rect x="326.9" y="561" width="10.6" height="119" fill="#ababab" stroke="#1a1a1a" stroke-width="1.5"/>
<path d="M332.2,552.25V569.75M329.2,552.25h6M329.2,569.75h6" stroke="#1a1a1a" stroke-width="1.4" fill="none"/>
<rect x="380.3" y="636.3" width="10.4" height="43.7" fill="#dcdcdc" stroke="#1a1a1a" stroke-width="1.5"/>
<path d="M385.5,631.9V641M382.5,631.9h6M382.5,641h6" stroke="#1a1a1a" stroke-width="1.4" fill="none"/>
<rect x="395" y="611.9" width="10.25" height="68.1" fill="#dcdcdc" stroke="#1a1a1a" stroke-width="1.5"/>
<path d="M400.12,607.5V616.2M397.12,607.5h6M397.12,616.2h6" stroke="#1a1a1a" stroke-width="1.4" fill="none"/>
<rect x="409.4" y="590" width="10.2" height="90" fill="#dcdcdc" stroke="#1a1a1a" stroke-width="1.5"/>
<path d="M414.5,579.4V600M411.5,579.4h6M411.5,600h6" stroke="#1a1a1a" stroke-width="1.4" fill="none"/>
<rect x="462.75" y="558.4" width="10.35" height="121.6" fill="#737373" stroke="#1a1a1a" stroke-width="1.5"/>
<path d="M467.93,546.6V569.75M464.93,546.6h6M464.93,569.75h6" stroke="#1a1a1a" stroke-width="1.4" fill="none"/>
<rect x="477.25" y="566.6" width="10.5" height="113.4" fill="#737373" stroke="#1a1a1a" stroke-width="1.5"/>
<path d="M482.5,554.6V578.5M479.5,554.6h6M479.5,578.5h6" stroke="#1a1a1a" stroke-width="1.4" fill="none"/>
<rect x="491.9" y="567.25" width="10.35" height="112.75" fill="#737373" stroke="#1a1a1a" stroke-width="1.5"/>
<path d="M497.07,559.1V575M494.07,559.1h6M494.07,575h6" stroke="#1a1a1a" stroke-width="1.4" fill="none"/>
<text x="156.3" y="689.5" font-size="11" font-weight="bold" text-anchor="end" fill="#222" transform="rotate(-45 156.3 689.5)">neg</text>
<text x="172" y="690.5" font-size="11" font-weight="bold" text-anchor="end" fill="#222" transform="rotate(-45 172 690.5)">pos</text>
<text x="224.7" y="689.5" font-size="9.6" font-weight="bold" text-anchor="end" fill="#222" transform="rotate(-45 224.7 689.5)">1:1</text>
<text x="239.4" y="689.5" font-size="9.6" font-weight="bold" text-anchor="end" fill="#222" transform="rotate(-45 239.4 689.5)">1:2</text>
<text x="253.8" y="689.5" font-size="9.6" font-weight="bold" text-anchor="end" fill="#222" transform="rotate(-45 253.8 689.5)">1:4</text>
<text x="307.3" y="689.5" font-size="9.6" font-weight="bold" text-anchor="end" fill="#222" transform="rotate(-45 307.3 689.5)">1:1</text>
<text x="321.7" y="689.5" font-size="9.6" font-weight="bold" text-anchor="end" fill="#222" transform="rotate(-45 321.7 689.5)">1:2</text>
<text x="336.3" y="689.5" font-size="9.6" font-weight="bold" text-anchor="end" fill="#222" transform="rotate(-45 336.3 689.5)">1:4</text>
<text x="389.5" y="689.5" font-size="9.6" font-weight="bold" text-anchor="end" fill="#222" transform="rotate(-45 389.5 689.5)">1:1</text>
<text x="404.05" y="689.5" font-size="9.6" font-weight="bold" text-anchor="end" fill="#222" transform="rotate(-45 404.05 689.5)">1:2</text>
<text x="418.4" y="689.5" font-size="9.6" font-weight="bold" text-anchor="end" fill="#222" transform="rotate(-45 418.4 689.5)">1:4</text>
<text x="471.9" y="689.5" font-size="9.6" font-weight="bold" text-anchor="end" fill="#222" transform="rotate(-45 471.9 689.5)">1:1</text>
<text x="486.55" y="689.5" font-size="9.6" font-weight="bold" text-anchor="end" fill="#222" transform="rotate(-45 486.55 689.5)">1:2</text>
<text x="501.05" y="689.5" font-size="9.6" font-weight="bold" text-anchor="end" fill="#222" transform="rotate(-45 501.05 689.5)">1:4</text>
<line x1="213.75" y1="704.6" x2="503.75" y2="704.6" stroke="#1a1a1a" stroke-width="1.6"/>
<text x="333.5" y="725.5" font-size="11" font-weight="bold" text-anchor="middle" fill="#222">CD14 : T ratio</text>
<path d="M168.1,515.5V510H396.5V515.6" stroke="#1a1a1a" stroke-width="1.5" fill="none"/>
<path d="M380,522.75V517.5H411V522.75" stroke="#1a1a1a" stroke-width="1.5" fill="none"/>
<text x="278.5" y="508.5" font-size="12.5" font-weight="bold" text-anchor="middle" fill="#222">**</text>
<path d="M166.8,535.5V530.9H249.4V536.3" stroke="#1a1a1a" stroke-width="1.5" fill="none"/>
<text x="207.5" y="532" font-size="12.5" font-weight="bold" text-anchor="middle" fill="#222">*</text>
<path d="M167.5,559.5V554H225.6V559.4" stroke="#1a1a1a" stroke-width="1.5" fill="none"/>
<path d="M217.5,566.5V561.25H234V566.5" stroke="#1a1a1a" stroke-width="1.5" fill="none"/>
<text x="199.4" y="555.5" font-size="12.5" font-weight="bold" text-anchor="middle" fill="#222">**</text>
<rect x="527" y="522.3" width="19.8" height="12" fill="#4a4a4a" stroke="#1a1a1a" stroke-width="1.4"/>
<text x="558.75" y="533" font-size="11" font-weight="bold" fill="#222">T+CD14<tspan font-size="7" dy="-4">+</tspan><tspan dy="4"> (CD14</tspan><tspan font-size="7" dy="-4">+</tspan><tspan dy="4">/HTR8)</tspan></text>
<rect x="527" y="542.5" width="19.8" height="11.7" fill="#ababab" stroke="#1a1a1a" stroke-width="1.4"/>
<text x="559.5" y="553.6" font-size="11" font-weight="bold" fill="#222">T+CD14<tspan font-size="7" dy="-4">+</tspan><tspan dy="4"> (control)</tspan></text>
<rect x="527" y="567.5" width="19.8" height="10.8" fill="#dcdcdc" stroke="#1a1a1a" stroke-width="1.4"/>
<text x="557.5" y="578" font-size="11" font-weight="bold" fill="#222">T+CD14<tspan font-size="7" dy="-4">low/-</tspan><tspan dy="4"> (CD14</tspan><tspan font-size="7" dy="-4">+</tspan><tspan dy="4">/HTR8)</tspan></text>
<rect x="527" y="588.2" width="19.8" height="11.1" fill="#737373" stroke="#1a1a1a" stroke-width="1.4"/>
<text x="557.5" y="599.2" font-size="11" font-weight="bold" fill="#222">T+CD14<tspan font-size="7" dy="-4">+</tspan><tspan dy="4"> (CD14</tspan><tspan font-size="7" dy="-4">+</tspan><tspan dy="4">/HTR8)</tspan></text>
<text x="1" y="763.75" font-size="15" font-weight="bold" fill="#111">c</text>
<text x="86.2" y="764" font-size="10.3" font-weight="bold" text-anchor="middle" fill="#222">IDO1</text>
<line x1="41.6" y1="781.7" x2="41.6" y2="923.5" stroke="#151515" stroke-width="1.7"/>
<line x1="41.6" y1="922.7" x2="136" y2="922.7" stroke="#151515" stroke-width="1.7"/>
<line x1="37.3" y1="922.7" x2="41.6" y2="922.7" stroke="#151515" stroke-width="1.7"/>
<text x="37" y="927.2" font-size="10.4" font-weight="bold" text-anchor="end" fill="#222">0</text>
<line x1="37.3" y1="875.97" x2="41.6" y2="875.97" stroke="#151515" stroke-width="1.7"/>
<text x="37" y="880.47" font-size="10.4" font-weight="bold" text-anchor="end" fill="#222">5</text>
<line x1="37.3" y1="829.23" x2="41.6" y2="829.23" stroke="#151515" stroke-width="1.7"/>
<text x="37" y="833.73" font-size="10.4" font-weight="bold" text-anchor="end" fill="#222">10</text>
<line x1="37.3" y1="782.5" x2="41.6" y2="782.5" stroke="#151515" stroke-width="1.7"/>
<text x="37" y="787" font-size="10.4" font-weight="bold" text-anchor="end" fill="#222">15</text>
<rect x="43.75" y="921.3" width="25" height="1.4" fill="#444" stroke="#151515" stroke-width="2.0"/>
<rect x="77.5" y="880.5" width="22.5" height="42.2" fill="#fff" stroke="#151515" stroke-width="2.0"/>
<path d="M88.75,860V902.5M83.15,860h11.2M83.15,902.5h11.2" stroke="#222" stroke-width="1.5" fill="none"/>
<rect x="110.3" y="825" width="21.3" height="97.7" fill="#ddd" stroke="#151515" stroke-width="2.0"/>
<path d="M120.95,795.6V855.5M115.35,795.6h11.2M115.35,855.5h11.2" stroke="#222" stroke-width="1.5" fill="none"/>
<path d="M57.5,800.2V795.6H86.9V800.2" stroke="#151515" stroke-width="1.6" fill="none"/>
<path d="M72.8,795.6V787H121.8V794.4" stroke="#151515" stroke-width="1.6" fill="none"/>
<text x="98.7" y="788" font-size="12.5" font-weight="bold" text-anchor="middle" fill="#222">**</text>
<text x="214.4" y="764" font-size="10.3" font-weight="bold" text-anchor="middle" fill="#222">ARG1</text>
<line x1="166.4" y1="781.6" x2="166.4" y2="923.2" stroke="#151515" stroke-width="1.7"/>
<line x1="166.4" y1="922.4" x2="262.5" y2="922.4" stroke="#151515" stroke-width="1.7"/>
<line x1="162.1" y1="922.4" x2="166.4" y2="922.4" stroke="#151515" stroke-width="1.7"/>
<text x="161.8" y="926.9" font-size="10.4" font-weight="bold" text-anchor="end" fill="#222">0.0</text>
<line x1="162.1" y1="887.4" x2="166.4" y2="887.4" stroke="#151515" stroke-width="1.7"/>
<text x="161.8" y="891.9" font-size="10.4" font-weight="bold" text-anchor="end" fill="#222">0.5</text>
<line x1="162.1" y1="852.4" x2="166.4" y2="852.4" stroke="#151515" stroke-width="1.7"/>
<text x="161.8" y="856.9" font-size="10.4" font-weight="bold" text-anchor="end" fill="#222">1.0</text>
<line x1="162.1" y1="817.4" x2="166.4" y2="817.4" stroke="#151515" stroke-width="1.7"/>
<text x="161.8" y="821.9" font-size="10.4" font-weight="bold" text-anchor="end" fill="#222">1.5</text>
<line x1="162.1" y1="782.4" x2="166.4" y2="782.4" stroke="#151515" stroke-width="1.7"/>
<text x="161.8" y="786.9" font-size="10.4" font-weight="bold" text-anchor="end" fill="#222">2.0</text>
<rect x="171.25" y="921.6" width="22.5" height="0.8" fill="#444" stroke="#151515" stroke-width="2.0"/>
<rect x="203.75" y="893.75" width="22" height="28.65" fill="#fff" stroke="#151515" stroke-width="2.0"/>
<path d="M214.75,880.75V908M209.15,880.75h11.2M209.15,908h11.2" stroke="#222" stroke-width="1.5" fill="none"/>
<rect x="235.75" y="836.75" width="21.75" height="85.65" fill="#ddd" stroke="#151515" stroke-width="2.0"/>
<path d="M246.62,816.25V858.25M241.03,816.25h11.2M241.03,858.25h11.2" stroke="#222" stroke-width="1.5" fill="none"/>
<path d="M183.75,800V795.5H213V800" stroke="#151515" stroke-width="1.6" fill="none"/>
<path d="M198.75,795.5V789.5H248V793.75" stroke="#151515" stroke-width="1.6" fill="none"/>
<text x="223.75" y="790.5" font-size="12.5" font-weight="bold" text-anchor="middle" fill="#222">**</text>
<text x="335.6" y="764" font-size="10.3" font-weight="bold" text-anchor="middle" fill="#222">COX2</text>
<line x1="285" y1="781.6" x2="285" y2="923.7" stroke="#151515" stroke-width="1.7"/>
<line x1="285" y1="922.9" x2="381.25" y2="922.9" stroke="#151515" stroke-width="1.7"/>
<line x1="280.7" y1="922.9" x2="285" y2="922.9" stroke="#151515" stroke-width="1.7"/>
<text x="280.4" y="927.4" font-size="10.4" font-weight="bold" text-anchor="end" fill="#222">0</text>
<line x1="280.7" y1="876.07" x2="285" y2="876.07" stroke="#151515" stroke-width="1.7"/>
<text x="280.4" y="880.57" font-size="10.4" font-weight="bold" text-anchor="end" fill="#222">2</text>
<line x1="280.7" y1="829.23" x2="285" y2="829.23" stroke="#151515" stroke-width="1.7"/>
<text x="280.4" y="833.73" font-size="10.4" font-weight="bold" text-anchor="end" fill="#222">4</text>
<line x1="280.7" y1="782.4" x2="285" y2="782.4" stroke="#151515" stroke-width="1.7"/>
<text x="280.4" y="786.9" font-size="10.4" font-weight="bold" text-anchor="end" fill="#222">6</text>
<rect x="289.9" y="918.4" width="22.3" height="4.5" fill="#444" stroke="#151515" stroke-width="2.0"/>
<rect x="322.5" y="891.75" width="21.75" height="31.15" fill="#fff" stroke="#151515" stroke-width="2.0"/>
<path d="M333.38,880.75V903.75M327.77,880.75h11.2M327.77,903.75h11.2" stroke="#222" stroke-width="1.5" fill="none"/>
<rect x="354.5" y="827.5" width="21.75" height="95.4" fill="#ddd" stroke="#151515" stroke-width="2.0"/>
<path d="M365.38,810.75V844.5M359.77,810.75h11.2M359.77,844.5h11.2" stroke="#222" stroke-width="1.5" fill="none"/>
<path d="M301.8,799.7V795.5H331.25V799.7" stroke="#151515" stroke-width="1.6" fill="none"/>
<path d="M317.1,795.5V789.2H366.25V793.75" stroke="#151515" stroke-width="1.6" fill="none"/>
<text x="344.25" y="790.5" font-size="12.5" font-weight="bold" text-anchor="middle" fill="#222">**</text>
<text x="466.9" y="764" font-size="10.3" font-weight="bold" text-anchor="middle" fill="#222">NOS2</text>
<line x1="422.3" y1="781.3" x2="422.3" y2="923.6" stroke="#151515" stroke-width="1.7"/>
<line x1="422.3" y1="922.8" x2="518.6" y2="922.8" stroke="#151515" stroke-width="1.7"/>
<line x1="418" y1="922.8" x2="422.3" y2="922.8" stroke="#151515" stroke-width="1.7"/>
<text x="417.7" y="927.3" font-size="10.4" font-weight="bold" text-anchor="end" fill="#222">0.000</text>
<line x1="418" y1="875.9" x2="422.3" y2="875.9" stroke="#151515" stroke-width="1.7"/>
<text x="417.7" y="880.4" font-size="10.4" font-weight="bold" text-anchor="end" fill="#222">0.005</text>
<line x1="418" y1="829" x2="422.3" y2="829" stroke="#151515" stroke-width="1.7"/>
<text x="417.7" y="833.5" font-size="10.4" font-weight="bold" text-anchor="end" fill="#222">0.010</text>
<line x1="418" y1="782.1" x2="422.3" y2="782.1" stroke="#151515" stroke-width="1.7"/>
<text x="417.7" y="786.6" font-size="10.4" font-weight="bold" text-anchor="end" fill="#222">0.015</text>
<rect x="427.4" y="870.3" width="21.6" height="52.5" fill="#444" stroke="#151515" stroke-width="2.0"/>
<path d="M438.2,832V909M432.6,832h11.2M432.6,909h11.2" stroke="#222" stroke-width="1.5" fill="none"/>
<rect x="459.5" y="861.25" width="21.75" height="61.55" fill="#fff" stroke="#151515" stroke-width="2.0"/>
<path d="M470.38,830.75V892.5M464.77,830.75h11.2M464.77,892.5h11.2" stroke="#222" stroke-width="1.5" fill="none"/>
<rect x="491.75" y="859.25" width="21.05" height="63.55" fill="#ddd" stroke="#151515" stroke-width="2.0"/>
<path d="M502.27,806.75V912M496.67,806.75h11.2M496.67,912h11.2" stroke="#222" stroke-width="1.5" fill="none"/>
<text x="588.1" y="764" font-size="10.3" font-weight="bold" text-anchor="middle" fill="#222">IL-4Rα</text>
<line x1="545" y1="781.5" x2="545" y2="923.6" stroke="#151515" stroke-width="1.7"/>
<line x1="545" y1="922.8" x2="640" y2="922.8" stroke="#151515" stroke-width="1.7"/>
<line x1="540.7" y1="922.8" x2="545" y2="922.8" stroke="#151515" stroke-width="1.7"/>
<text x="540.4" y="927.3" font-size="10.4" font-weight="bold" text-anchor="end" fill="#f2f2f2">0.0</text>
<line x1="540.7" y1="875.97" x2="545" y2="875.97" stroke="#151515" stroke-width="1.7"/>
<text x="540.4" y="880.47" font-size="10.4" font-weight="bold" text-anchor="end" fill="#f2f2f2">0.2</text>
<line x1="540.7" y1="829.13" x2="545" y2="829.13" stroke="#151515" stroke-width="1.7"/>
<text x="540.4" y="833.63" font-size="10.4" font-weight="bold" text-anchor="end" fill="#f2f2f2">0.4</text>
<line x1="540.7" y1="782.3" x2="545" y2="782.3" stroke="#151515" stroke-width="1.7"/>
<text x="540.4" y="786.8" font-size="10.4" font-weight="bold" text-anchor="end" fill="#f2f2f2">0.6</text>
<rect x="549.4" y="862.8" width="22.35" height="60" fill="#444" stroke="#151515" stroke-width="2.0"/>
<path d="M560.58,829.1V897.2M554.98,829.1h11.2M554.98,897.2h11.2" stroke="#222" stroke-width="1.5" fill="none"/>
<rect x="581.75" y="854.5" width="22" height="68.3" fill="#fff" stroke="#151515" stroke-width="2.0"/>
<path d="M592.75,816.25V893M587.15,816.25h11.2M587.15,893h11.2" stroke="#222" stroke-width="1.5" fill="none"/>
<rect x="613.75" y="834.5" width="21.75" height="88.3" fill="#ddd" stroke="#151515" stroke-width="2.0"/>
<path d="M624.62,799.5V870.5M619.02,799.5h11.2M619.02,870.5h11.2" stroke="#222" stroke-width="1.5" fill="none"/>
<text x="9.2" y="854.7" font-size="11.2" font-weight="bold" text-anchor="middle" fill="#222" transform="rotate(-90 9.2 854.7)">Relative gene expression</text>
<text x="21.4" y="855.5" font-size="11.3" font-weight="bold" text-anchor="middle" fill="#222" transform="rotate(-90 21.4 855.5)">(mean of control=1)</text>
<rect x="652.2" y="764.8" width="19.9" height="11.5" fill="#444" stroke="#151515" stroke-width="1.6"/>
<rect x="652.2" y="789.1" width="18.9" height="10.9" fill="#fff" stroke="#151515" stroke-width="1.6"/>
<rect x="652.2" y="812.6" width="19.5" height="11.2" fill="#ddd" stroke="#151515" stroke-width="1.6"/>
<text x="676.4" y="774.8" font-size="11" font-weight="bold" fill="#222">CD14<tspan font-size="7" dy="-4">+</tspan><tspan dy="4"> (control)</tspan></text>
<text x="676.4" y="799.6" font-size="11" font-weight="bold" fill="#222">DR<tspan font-size="7" dy="-4">+</tspan><tspan dy="4"> (CD14</tspan><tspan font-size="7" dy="-4">+</tspan><tspan dy="4">/HTR8)</tspan></text>
<text x="677.7" y="822" font-size="11" font-weight="bold" fill="#222">DR<tspan font-size="7" dy="-4">low/-</tspan><tspan dy="4"> (CD14</tspan><tspan font-size="7" dy="-4">+</tspan><tspan dy="4">/HTR8)</tspan></text>
</svg>
</body></html>
